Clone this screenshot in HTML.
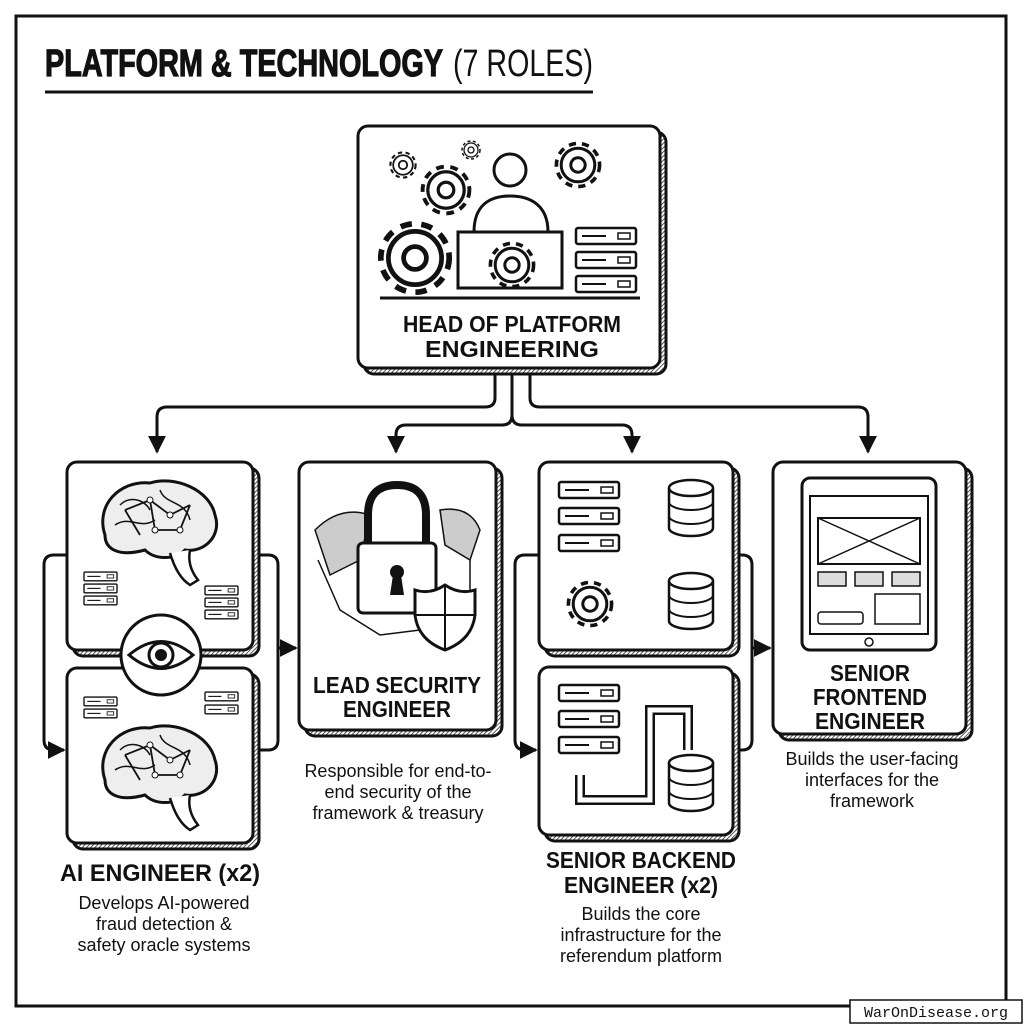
<!DOCTYPE html>
<html><head><meta charset="utf-8"><style>
html,body{margin:0;padding:0;background:#fff;width:1024px;height:1024px;overflow:hidden}
text{font-family:"Liberation Sans",sans-serif;fill:#111}
.b{font-weight:bold}
</style></head><body>
<svg width="1024" height="1024" viewBox="0 0 1024 1024" xmlns="http://www.w3.org/2000/svg">
<defs>
<marker id="ar" viewBox="0 0 10 10" refX="9" refY="5" markerWidth="6" markerHeight="6" orient="auto"><path d="M0,0L10,5L0,10z" fill="#111"/></marker>
<pattern id="hatch" width="3" height="3" patternUnits="userSpaceOnUse" patternTransform="rotate(45)"><rect width="3" height="3" fill="#fff"/><line x1="0" y1="0" x2="0" y2="3" stroke="#222" stroke-width="1.5"/></pattern>
<g id="gear"><circle r="18" fill="none" stroke="#111" stroke-width="3" stroke-dasharray="6 5"/><circle r="14" fill="#fff" stroke="#111" stroke-width="2.5"/><circle r="6" fill="#fff" stroke="#111" stroke-width="2.5"/></g>
<g id="srv"><rect x="0" y="0" width="60" height="16" rx="2" fill="#fff" stroke="#111" stroke-width="2.5"/><line x1="6" y1="8" x2="30" y2="8" stroke="#111" stroke-width="2"/><rect x="42" y="5" width="12" height="6" fill="none" stroke="#111" stroke-width="1.5"/></g>
<g id="db"><path d="M0,8 v40 a22,8 0 0 0 44,0 v-40" fill="#fff" stroke="#111" stroke-width="2.5"/><ellipse cx="22" cy="8" rx="22" ry="8" fill="#fff" stroke="#111" stroke-width="2.5"/><path d="M0,22 a22,8 0 0 0 44,0 M0,36 a22,8 0 0 0 44,0" fill="none" stroke="#111" stroke-width="2"/></g>
<g id="brain"><path d="M-55,10 C-65,-20 -40,-45 -10,-42 C15,-50 50,-35 55,-10 C62,10 45,28 25,25 C15,35 -5,35 -15,25 C-40,32 -55,25 -55,10z" fill="#eee" stroke="#111" stroke-width="3"/><path d="M-45,0 C-30,-10 -20,5 -5,-5 M0,-35 C5,-20 25,-25 30,-5 M-40,-20 C-30,-30 -15,-25 -10,-15" fill="none" stroke="#111" stroke-width="1.5"/><path d="M10,28 C15,45 22,55 30,60 L38,55 C30,45 28,35 30,25" fill="#fff" stroke="#111" stroke-width="2.5"/><path d="M-35,-15 L-10,-25 L10,-10 L30,-20 M-10,-25 L-5,5 L20,5 L30,-20 M-35,-15 L-20,10" fill="none" stroke="#111" stroke-width="1.8"/><circle cx="-10" cy="-25" r="3" fill="#fff" stroke="#111"/><circle cx="10" cy="-10" r="3" fill="#fff" stroke="#111"/><circle cx="-5" cy="5" r="3" fill="#fff" stroke="#111"/><circle cx="20" cy="5" r="3" fill="#fff" stroke="#111"/></g>
</defs>
<rect x="16" y="16" width="990" height="990" fill="none" stroke="#111" stroke-width="3"/>
<text x="45" y="76" class="b" font-size="38" stroke="#111" stroke-width="1.2" textLength="398" lengthAdjust="spacingAndGlyphs">PLATFORM &amp; TECHNOLOGY</text>
<text x="453" y="76" font-size="38" textLength="140" lengthAdjust="spacingAndGlyphs">(7 ROLES)</text>
<line x1="45" y1="92" x2="593" y2="92" stroke="#111" stroke-width="3"/>

<g fill="none" stroke="#111" stroke-width="3">
<path d="M495,372 V398 Q495,407 485,407 H167 Q157,407 157,417 V452" marker-end="url(#ar)"/>
<path d="M512,372 V415 Q512,425 502,425 H406 Q396,425 396,435 V452" marker-end="url(#ar)"/>
<path d="M512,415 Q512,425 522,425 H622 Q632,425 632,435 V452" marker-end="url(#ar)"/>
<path d="M530,372 V398 Q530,407 540,407 H858 Q868,407 868,417 V452" marker-end="url(#ar)"/>
<path d="M67,555 H54 Q44,555 44,565 V740 Q44,750 54,750 H64" marker-end="url(#ar)"/>
<path d="M258,555 H268 Q278,555 278,565 V740 Q278,750 268,750 H258"/>
<path d="M278,648 H296" marker-end="url(#ar)"/>
<path d="M539,555 H525 Q515,555 515,565 V740 Q515,750 525,750 H536" marker-end="url(#ar)"/>
<path d="M738,555 H742 Q752,555 752,565 V740 Q752,750 742,750 H738"/>
<path d="M752,648 H770" marker-end="url(#ar)"/>
</g>

<g stroke="#111" stroke-width="3">
<rect x="364" y="132" width="302" height="242" rx="10" fill="url(#hatch)"/>
<rect x="358" y="126" width="302" height="242" rx="10" fill="#fff"/>
<rect x="73" y="468" width="186" height="188" rx="10" fill="url(#hatch)"/>
<rect x="67" y="462" width="186" height="188" rx="10" fill="#fff"/>
<rect x="73" y="674" width="186" height="175" rx="10" fill="url(#hatch)"/>
<rect x="67" y="668" width="186" height="175" rx="10" fill="#fff"/>
<rect x="305" y="468" width="197" height="268" rx="10" fill="url(#hatch)"/>
<rect x="299" y="462" width="197" height="268" rx="10" fill="#fff"/>
<rect x="545" y="468" width="194" height="188" rx="10" fill="url(#hatch)"/>
<rect x="539" y="462" width="194" height="188" rx="10" fill="#fff"/>
<rect x="545" y="673" width="194" height="168" rx="10" fill="url(#hatch)"/>
<rect x="539" y="667" width="194" height="168" rx="10" fill="#fff"/>
<rect x="779" y="468" width="193" height="272" rx="10" fill="url(#hatch)"/>
<rect x="773" y="462" width="193" height="272" rx="10" fill="#fff"/>
</g>

<use href="#gear" transform="translate(415,258) scale(1.9)"/>
<use href="#gear" transform="translate(446,190) scale(1.3)"/>
<use href="#gear" transform="translate(403,165) scale(0.7)"/>
<use href="#gear" transform="translate(471,150) scale(0.5)"/>
<use href="#gear" transform="translate(578,165) scale(1.2)"/>
<circle cx="510" cy="170" r="16" fill="#fff" stroke="#111" stroke-width="3"/>
<path d="M474,232 C474,205 490,196 510,196 C530,196 548,205 548,232z" fill="#fff" stroke="#111" stroke-width="3"/>
<rect x="458" y="232" width="104" height="56" fill="#fff" stroke="#111" stroke-width="3"/>
<use href="#gear" transform="translate(512,265) scale(1.2)"/>
<use href="#srv" x="576" y="228"/><use href="#srv" x="576" y="252"/><use href="#srv" x="576" y="276"/>
<line x1="380" y1="298" x2="640" y2="298" stroke="#111" stroke-width="3"/>
<text x="512" y="332" class="b" font-size="23" text-anchor="middle" textLength="218" lengthAdjust="spacingAndGlyphs">HEAD OF PLATFORM</text>
<text x="512" y="357" class="b" font-size="23" text-anchor="middle" textLength="174" lengthAdjust="spacingAndGlyphs">ENGINEERING</text>

<use href="#brain" transform="translate(160,525)"/>
<use href="#brain" transform="translate(160,770)"/>
<use href="#srv" transform="translate(84,572) scale(0.55)"/>
<use href="#srv" transform="translate(84,584) scale(0.55)"/>
<use href="#srv" transform="translate(84,596) scale(0.55)"/>
<use href="#srv" transform="translate(205,586) scale(0.55)"/>
<use href="#srv" transform="translate(205,598) scale(0.55)"/>
<use href="#srv" transform="translate(205,610) scale(0.55)"/>
<use href="#srv" transform="translate(84,697) scale(0.55)"/>
<use href="#srv" transform="translate(84,709) scale(0.55)"/>
<use href="#srv" transform="translate(205,692) scale(0.55)"/>
<use href="#srv" transform="translate(205,705) scale(0.55)"/>
<circle cx="161" cy="655" r="40" fill="#fff" stroke="#111" stroke-width="3"/>
<path d="M129,655 Q161,628 193,655 Q161,682 129,655z" fill="#fff" stroke="#111" stroke-width="3"/>
<circle cx="161" cy="655" r="12" fill="#fff" stroke="#111" stroke-width="3"/><circle cx="161" cy="655" r="6" fill="#111"/>
<text x="160" y="881" class="b" font-size="24" text-anchor="middle" textLength="200" lengthAdjust="spacingAndGlyphs">AI ENGINEER (x2)</text>
<text x="164" y="909" font-size="18" text-anchor="middle">Develops AI-powered</text>
<text x="164" y="930" font-size="18" text-anchor="middle">fraud detection &amp;</text>
<text x="164" y="951" font-size="18" text-anchor="middle">safety oracle systems</text>

<path d="M315,530 Q340,505 370,515 L360,560 L330,575z M440,510 Q470,505 480,530 L470,560 L445,545z" fill="#ccc" stroke="#111" stroke-width="1.5"/>
<path d="M318,560 L340,610 L380,635 L420,630 M470,560 L470,610" fill="none" stroke="#111" stroke-width="1.5"/>
<path d="M368,545 V515 Q368,485 397,485 Q426,485 426,515 V545" fill="none" stroke="#111" stroke-width="8"/>
<rect x="358" y="543" width="78" height="70" rx="5" fill="#fff" stroke="#111" stroke-width="3"/>
<circle cx="397" cy="572" r="7" fill="#111"/><path d="M393,575 L390,595 H404 L401,575z" fill="#111"/>
<path d="M445,585 Q430,595 415,590 V615 Q418,640 445,650 Q472,640 475,615 V590 Q460,595 445,585z" fill="#fff" stroke="#111" stroke-width="3"/>
<path d="M445,585 V650 M415,615 H475" stroke="#111" stroke-width="2"/>
<text x="397" y="693" class="b" font-size="23" text-anchor="middle" textLength="168" lengthAdjust="spacingAndGlyphs">LEAD SECURITY</text>
<text x="397" y="717" class="b" font-size="23" text-anchor="middle" textLength="108" lengthAdjust="spacingAndGlyphs">ENGINEER</text>
<text x="398" y="777" font-size="18" text-anchor="middle">Responsible for end-to-</text>
<text x="398" y="798" font-size="18" text-anchor="middle">end security of the</text>
<text x="398" y="819" font-size="18" text-anchor="middle">framework &amp; treasury</text>

<use href="#srv" x="559" y="482"/><use href="#srv" x="559" y="508"/><use href="#srv" x="559" y="535"/>
<use href="#db" x="669" y="480"/><use href="#db" x="669" y="573"/>
<use href="#gear" transform="translate(590,604) scale(1.2)"/>
<use href="#srv" x="559" y="685"/><use href="#srv" x="559" y="711"/><use href="#srv" x="559" y="737"/>
<path d="M580,775 V800 H650 V710 H688 V750" fill="none" stroke="#111" stroke-width="10"/>
<path d="M580,775 V800 H650 V710 H688 V750" fill="none" stroke="#fff" stroke-width="5"/>
<use href="#db" x="669" y="755"/>
<text x="641" y="868" class="b" font-size="23" text-anchor="middle" textLength="190" lengthAdjust="spacingAndGlyphs">SENIOR BACKEND</text>
<text x="641" y="893" class="b" font-size="23" text-anchor="middle" textLength="154" lengthAdjust="spacingAndGlyphs">ENGINEER (x2)</text>
<text x="641" y="920" font-size="18" text-anchor="middle">Builds the core</text>
<text x="641" y="941" font-size="18" text-anchor="middle">infrastructure for the</text>
<text x="641" y="962" font-size="18" text-anchor="middle">referendum platform</text>

<rect x="802" y="478" width="134" height="172" rx="8" fill="#fff" stroke="#111" stroke-width="3"/>
<rect x="810" y="496" width="118" height="138" fill="#fff" stroke="#111" stroke-width="2"/>
<rect x="818" y="518" width="102" height="46" fill="#fff" stroke="#111" stroke-width="2"/>
<path d="M818,518 L920,564 M920,518 L818,564" stroke="#111" stroke-width="1.5"/>
<rect x="818" y="572" width="28" height="14" fill="#ddd" stroke="#111" stroke-width="1.5"/>
<rect x="855" y="572" width="28" height="14" fill="#ddd" stroke="#111" stroke-width="1.5"/>
<rect x="892" y="572" width="28" height="14" fill="#ddd" stroke="#111" stroke-width="1.5"/>
<rect x="875" y="594" width="45" height="30" fill="#fff" stroke="#111" stroke-width="1.5"/>
<rect x="818" y="612" width="45" height="12" rx="3" fill="#fff" stroke="#111" stroke-width="1.5"/>
<circle cx="869" cy="642" r="4" fill="none" stroke="#111" stroke-width="1.5"/>
<text x="870" y="681" class="b" font-size="23" text-anchor="middle" textLength="80" lengthAdjust="spacingAndGlyphs">SENIOR</text>
<text x="870" y="705" class="b" font-size="23" text-anchor="middle" textLength="114" lengthAdjust="spacingAndGlyphs">FRONTEND</text>
<text x="870" y="729" class="b" font-size="23" text-anchor="middle" textLength="110" lengthAdjust="spacingAndGlyphs">ENGINEER</text>
<text x="872" y="765" font-size="18" text-anchor="middle">Builds the user-facing</text>
<text x="872" y="786" font-size="18" text-anchor="middle">interfaces for the</text>
<text x="872" y="807" font-size="18" text-anchor="middle">framework</text>

<rect x="850" y="1000" width="172" height="23" fill="#fff" stroke="#111" stroke-width="1.5"/>
<text x="936" y="1017" style="font-family:'Liberation Mono',monospace" font-size="15" text-anchor="middle">WarOnDisease.org</text>
</svg>
</body></html>
